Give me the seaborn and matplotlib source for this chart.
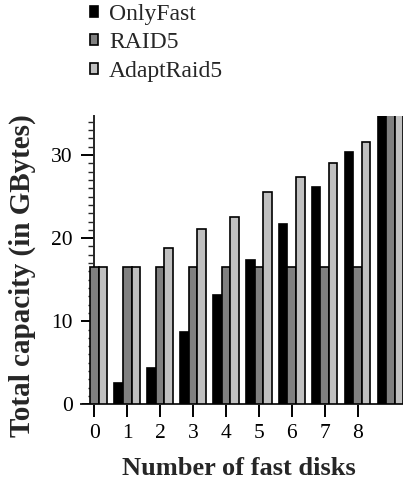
import numpy as np
import pandas as pd
import matplotlib
matplotlib.use("Agg")
import matplotlib.pyplot as plt
from matplotlib.ticker import MultipleLocator
import seaborn as sns

# данные
disks = [0, 1, 2, 3, 4, 5, 6, 7, 8, 9]
only_fast = [0.0, 2.6, 4.4, 8.7, 13.1, 17.4, 21.7, 26.1, 30.4, 35.0]
raid5 = [16.5, 16.5, 16.5, 16.5, 16.5, 16.5, 16.5, 16.5, 16.5, 35.0]
adapt_raid5 = [16.5, 16.5, 18.8, 21.1, 22.5, 25.6, 27.3, 29.0, 31.6, 35.0]
schemes = ["OnlyFast", "RAID5", "AdaptRaid5"]
colors = ["#000000", "#808080", "#c0c0c0"]
xtick_labels = ["0", "1", "2", "3", "4", "5", "6", "7", "8"]

df = pd.DataFrame(
    {
        "disks": disks * 3,
        "scheme": np.repeat(schemes, len(disks)),
        "capacity": only_fast + raid5 + adapt_raid5,
    }
)

sns.set_style("ticks")
plt.rcParams["font.family"] = ["Liberation Serif", "DejaVu Serif"]

fig = plt.figure(figsize=(4.03, 4.83), dpi=100)
ax = fig.add_axes([0.1998, 0.1629, 0.8, 0.5969])

sns.barplot(
    data=df,
    x="disks",
    y="capacity",
    hue="scheme",
    hue_order=schemes,
    palette=colors,
    saturation=1,
    width=0.78,
    errorbar=None,
    edgecolor="black",
    linewidth=1.2,
    zorder=3,
    legend=False,
    ax=ax,
)

ax.set_xlim(-0.42, 9.38)
ax.set_ylim(0, 34.7)
ax.spines["left"].set_position(("data", 0))
sns.despine(ax=ax)
for s in ["left", "bottom"]:
    ax.spines[s].set_linewidth(1.4)

ax.set_xticks(range(len(xtick_labels)))
ax.set_xticklabels(xtick_labels)
ax.yaxis.set_major_locator(MultipleLocator(10))
ax.yaxis.set_minor_locator(MultipleLocator(1))
ax.tick_params(axis="both", which="major", direction="out", length=9.5, width=1.4,
               labelsize=15.5, colors="black")
ax.tick_params(axis="x", pad=5)
ax.tick_params(axis="y", pad=6)
ax.tick_params(axis="y", which="minor", direction="out", length=4.3, width=1.0)

ax.set_xlabel("Number of fast disks", fontsize=19, fontweight="bold")
ax.set_ylabel("Total capacity (in GBytes)", fontsize=21, fontweight="bold", va="center")
ax.xaxis.set_label_coords(239 / 403, 1 - 457 / 483, transform=fig.transFigure)
ax.yaxis.set_label_coords(22 / 403, 1 - 276 / 483, transform=fig.transFigure)

ax.legend(
    ax.containers,
    schemes,
    loc="upper left",
    bbox_to_anchor=(90 / 403, 1 - 4 / 483),
    bbox_transform=fig.transFigure,
    frameon=False,
    fontsize=17,
    handlelength=0.34,
    handleheight=0.34,
    handletextpad=0.47,
    labelspacing=0.31,
    borderpad=0,
    borderaxespad=0,
)

plt.savefig("out.png", dpi=100)
